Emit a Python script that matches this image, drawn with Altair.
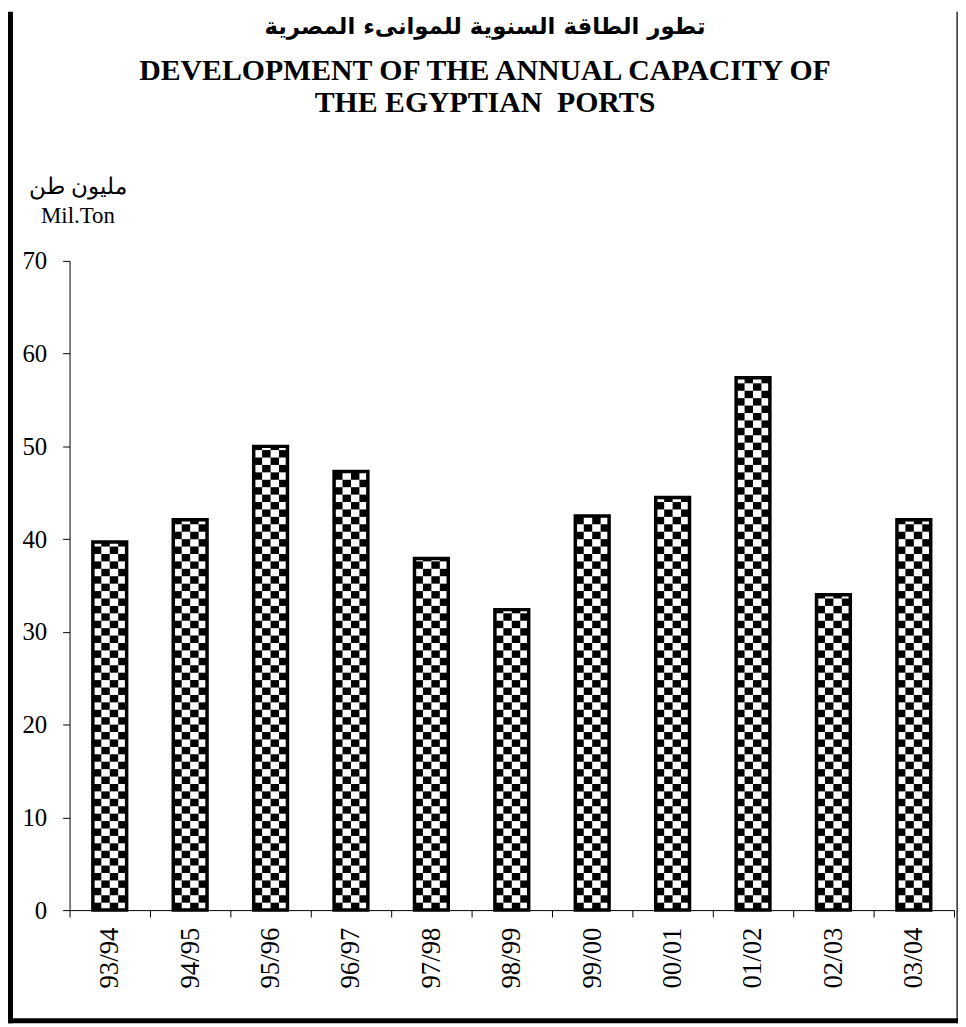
import altair as alt
import pandas as pd

# ---- data ----
categories = ["93/94", "94/95", "95/96", "96/97", "97/98", "98/99",
              "99/00", "00/01", "01/02", "02/03", "03/04"]
values = [39.7, 42.1, 50.0, 47.3, 37.9, 32.4, 42.5, 44.5, 57.4, 34.0, 42.1]
y_ticks = [0, 10, 20, 30, 40, 50, 60, 70]

# trailing no-break spaces nudge the Arabic line right of the English lines, as in the reference
title_ar = "تطور الطاقة السنوية للموانىء المصرية" + "\u00a0\u00a0\u00a0\u00a0\u00a0"
title_en = ["DEVELOPMENT OF THE ANNUAL CAPACITY OF", "THE EGYPTIAN\u00a0 PORTS"]
y_title = ["مليون طن", "Mil.Ton"]

# ---- checkerboard fill pattern derived from the bar values ----
CELL_H = 0.8   # pattern cell height in data units
N_COLS = 4     # pattern cells across a bar
rows = []
for cat, v in zip(categories, values):
    k = 0
    while k * CELL_H < v - 1e-9:
        y0 = k * CELL_H
        y1 = min((k + 1) * CELL_H, v)
        for c in range(N_COLS):
            if (k + c) % 2 == 0:
                rows.append({"year": cat, "col": c, "y0": y0, "y1": y1})
        k += 1
cells = pd.DataFrame(rows)
bars = pd.DataFrame({"year": categories, "capacity": values})

x_scale = alt.Scale(domain=categories, paddingInner=0, paddingOuter=0)
y_scale = alt.Scale(domain=[0, 70], nice=False, zero=True)
# pattern columns sit in the middle of each category band (empty slots either side)
offset_domain = [-2, -1, 0, 1, 2, 3, 4, 5]
offset_scale = alt.Scale(domain=offset_domain, paddingInner=0, paddingOuter=0.765)

x_axis = alt.Axis(
    title=None, labelAngle=-90, labelAlign="right", labelBaseline="middle",
    labelFont="Liberation Serif", labelFontSize=27, labelColor="black",
    labelPadding=10, tickBand="extent", tickSize=7, tickColor="black",
    domainColor="black", grid=False, labelOverlap=False,
)
y_axis = alt.Axis(
    values=y_ticks, grid=False, tickSize=7, tickColor="black",
    domainColor="black", labelFont="Liberation Serif", labelFontSize=25,
    labelColor="black", labelPadding=16,
    title=y_title, titleAngle=0, titleAlign="center", titleBaseline="top",
    titleX=8, titleY=-86, titleFont="Liberation Serif", titleFontSize=23,
    titleFontWeight="normal", titleColor="black", titleLineHeight=29,
)

checker = alt.Chart(cells).mark_bar(color="black", strokeWidth=0).encode(
    x=alt.X("year:N", scale=x_scale, axis=x_axis, sort=categories),
    xOffset=alt.XOffset("col:O", scale=offset_scale),
    y=alt.Y("y0:Q", scale=y_scale, axis=y_axis),
    y2="y1:Q",
)

outline = alt.Chart(bars).mark_bar(
    fill="transparent", stroke="black", strokeWidth=3.5,
    width=alt.RelativeBandSize(0.42),
).encode(
    x=alt.X("year:N", scale=x_scale, axis=x_axis, sort=categories),
    y=alt.Y("capacity:Q", scale=y_scale, axis=y_axis),
)

frame = alt.Data(values=[{}])
left_bar = alt.Chart(frame).mark_rule(color="black", strokeWidth=5).encode(
    x=alt.value(-59.5), y=alt.value(-251), y2=alt.value(768))
right_line = alt.Chart(frame).mark_rule(color="#444444", strokeWidth=2).encode(
    x=alt.value(894.3), y=alt.value(-251), y2=alt.value(768))
bottom_bar = alt.Chart(frame).mark_rule(color="black", strokeWidth=5).encode(
    x=alt.value(-62), x2=alt.value(895.5), y=alt.value(765.5))

# the frame rules reach the top edge (y=-251 relative to the plot), and the
# title is laid out from that bound, so its offset is negative.
chart = alt.layer(checker, outline, left_bar, right_line, bottom_bar).properties(
    width=891, height=654,
    autosize=alt.AutoSizeParams(type="none"),
    padding={"left": 62, "top": 251, "right": 4, "bottom": 114},
    background="white",
    title=alt.TitleParams(
        text=title_ar, subtitle=title_en,
        font="DejaVu Sans", fontSize=23, fontWeight="bold", color="black",
        subtitleFont="Liberation Serif", subtitleFontSize=30,
        subtitleFontWeight="bold", subtitleColor="black",
        subtitleLineHeight=33, subtitlePadding=17,
        anchor="middle", frame="group", offset=-110, dx=-27,
    ),
).configure_view(stroke="transparent", strokeWidth=0)

chart.save("out.html", embed_options={"renderer": "svg", "actions": False})
